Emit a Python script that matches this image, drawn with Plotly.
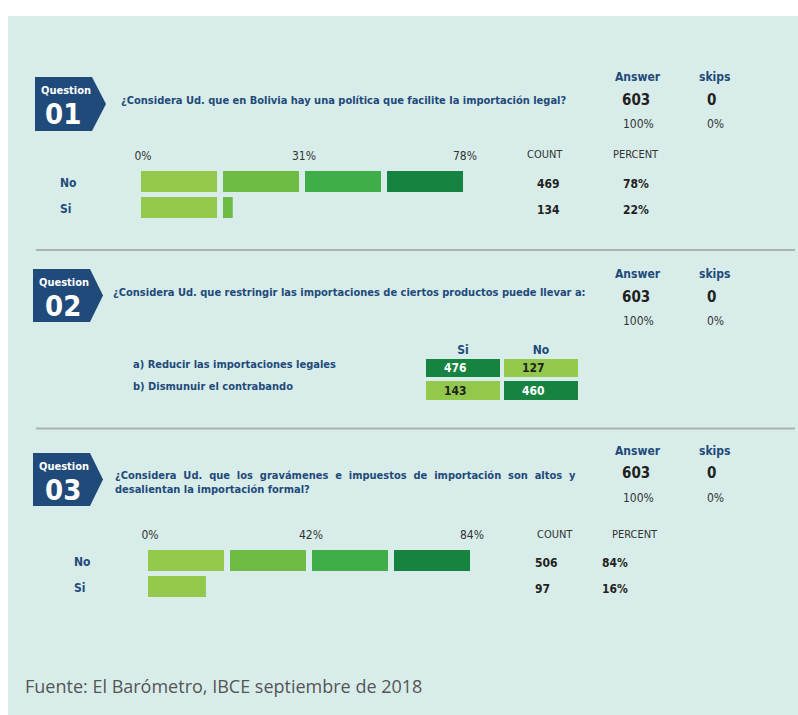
import plotly.graph_objects as go

# ---------------- data ----------------
q_numbers = ["01", "02", "03"]
q_texts = [
    ["¿Considera Ud. que en Bolivia hay una política que facilite la importación legal?"],
    ["¿Considera Ud. que restringir las importaciones de ciertos productos puede llevar a:"],
    ["¿Considera Ud. que los gravámenes e impuestos de importación son altos y",
     "desalientan la importación formal?"],
]
answered = [603, 603, 603]
answered_pct = ["100%", "100%", "100%"]
skipped = [0, 0, 0]
skipped_pct = ["0%", "0%", "0%"]

q1_options = ["No", "Si"]
q1_counts = [469, 134]
q1_percents = [78, 22]
q1_ticktext = ["0%", "31%", "78%"]

q2_items = ["a) Reducir las importaciones legales", "b) Dismunuir el contrabando"]
q2_columns = ["Si", "No"]
q2_counts = [[476, 127], [143, 460]]

q3_options = ["No", "Si"]
q3_counts = [506, 97]
q3_percents = [84, 16]
q3_ticktext = ["0%", "42%", "84%"]

source_text = "Fuente: El Barómetro, IBCE septiembre de 2018"

# ---------------- styling ----------------
W, H = 798, 715
BG = "#D8EDEA"
NAVY = "#1F4A7A"
DARK = "#231F20"
GREENS = ["#92C84B", "#6DBB42", "#3FAE4A", "#168440"]
FONT = "Liberation Sans Narrow, Arial Narrow, DejaVu Sans Condensed, sans-serif"


def px(x):
    return x / W


def py(y):
    return 1 - y / H


def justify(lines):
    # widen word gaps of every line except the last (the original text is justified)
    if len(lines) == 1:
        return lines[0]
    return "<br>".join([ln.replace(" ", " \u00a0") for ln in lines[:-1]] + [lines[-1]])


fig = go.Figure()
annotations = []
shapes = []

# panel background
shapes.append(dict(type="rect", xref="paper", yref="paper", x0=px(8), x1=px(W), y0=0, y1=py(16),
                   fillcolor=BG, line=dict(width=0), layer="below"))
# separators
for yy in (250, 428.5):
    shapes.append(dict(type="line", xref="paper", yref="paper", x0=px(36), x1=px(795), y0=py(yy), y1=py(yy),
                       line=dict(color="#AEB1B1", width=2)))

# badges + question text + answer/skips
badges = [
    dict(l=35, t=77, b=131, r=92, tip=106, qy=91, ny=114, qx=66, nx=63, tx=119, ty=100,
         ay=77, vy=100, py_=124),
    dict(l=33, t=269, b=322, r=90, tip=103, qy=282, ny=306, qx=64, nx=63, tx=111, ty=293,
         ay=274, vy=297, py_=321),
    dict(l=33, t=453, b=506, r=90, tip=103, qy=466, ny=490, qx=64, nx=63, tx=113, ty=482,
         ay=451, vy=473, py_=498),
]
for i, bd in enumerate(badges):
    m = (bd["t"] + bd["b"]) / 2
    path = (f"M {px(bd['l'])} {py(bd['t'])} L {px(bd['r'])} {py(bd['t'])} L {px(bd['tip'])} {py(m)} "
            f"L {px(bd['r'])} {py(bd['b'])} L {px(bd['l'])} {py(bd['b'])} Z")
    shapes.append(dict(type="path", xref="paper", yref="paper", path=path, fillcolor=NAVY, line=dict(width=0)))
    annotations.append(dict(x=px(bd["qx"]), y=py(bd["qy"]), xref="paper", yref="paper", text="<b>Question</b>",
                            showarrow=False, font=dict(family=FONT, size=11, color="white"),
                            xanchor="center", yanchor="middle"))
    annotations.append(dict(x=px(bd["nx"]), y=py(bd["ny"]), xref="paper", yref="paper",
                            text=f"<b>{q_numbers[i]}</b>", showarrow=False,
                            font=dict(family=FONT, size=29, color="white"), xanchor="center", yanchor="middle"))
    annotations.append(dict(x=px(bd["tx"]), y=py(bd["ty"]), xref="paper", yref="paper",
                            text=f"<b>{justify(q_texts[i])}</b>", showarrow=False, align="left",
                            font=dict(family=FONT, size=11, color=NAVY), xanchor="left", yanchor="middle"))
    for cx, txt, yy, size, col, bold in [
        (638, "Answer", bd["ay"], 12, NAVY, True),
        (714.5, "skips", bd["ay"], 12, NAVY, True),
        (636, str(answered[i]), bd["vy"], 15, DARK, True),
        (711.5, str(skipped[i]), bd["vy"], 15, DARK, True),
        (638, answered_pct[i], bd["py_"], 12, "#333333", False),
        (715, skipped_pct[i], bd["py_"], 12, "#333333", False),
    ]:
        annotations.append(dict(x=px(cx), y=py(yy), xref="paper", yref="paper",
                                text=f"<b>{txt}</b>" if bold else txt, showarrow=False,
                                font=dict(family=FONT, size=size, color=col),
                                xanchor="center", yanchor="middle"))


# ---------------- segmented bar charts (Q1, Q3) ----------------
def segmented(percents, options, xa, ya):
    seg = max(percents) / 4
    gap = seg * 6 / 76
    for opt, val in zip(options, percents):
        bases, lens, cols = [], [], []
        k, rem = 0, val
        while rem > 1e-9 and k < 4:
            ln = min(seg, rem)
            bases.append(k * (seg + gap))
            lens.append(ln)
            cols.append(GREENS[k])
            rem -= ln
            k += 1
        fig.add_trace(go.Bar(orientation="h", y=[opt] * len(lens), x=lens, base=bases,
                             marker=dict(color=cols, line=dict(width=0)), width=21 / 26,
                             xaxis=xa, yaxis=ya, hoverinfo="skip", showlegend=False))
    return 4 * seg + 3 * gap


tot1 = segmented(q1_percents, q1_options, "x", "y")
tot3 = segmented(q3_percents, q3_options, "x3", "y3")


def bar_axes(tot, ticktext, x0, x1, yc0, options):
    xa = dict(domain=[px(x0), px(x1)], range=[0, tot], side="top", tickvals=[0, tot / 2, tot],
              ticktext=ticktext, showgrid=False, zeroline=False, showline=False, ticks="",
              ticklabelstandoff=5, ticklabelshift=2,
              tickfont=dict(family=FONT, size=12, color="#333333"), fixedrange=True, automargin=False)
    ya = dict(domain=[py(yc0 + 26 * len(options) - 13), py(yc0 - 13)], type="category",
              categoryorder="array", categoryarray=options, range=[len(options) - 0.5, -0.5],
              showticklabels=False, showgrid=False, zeroline=False, showline=False, fixedrange=True,
              automargin=False)
    return xa, ya


xa1, ya1 = bar_axes(tot1, q1_ticktext, 141, 463, 181.5, q1_options)
xa3, ya3 = bar_axes(tot3, q3_ticktext, 148, 470, 560.5, q3_options)


def table_text(options, counts, percents, yref, label_x, count_x, pct_x, head_count_x, head_pct_x, head_y):
    for opt, c, p in zip(options, counts, percents):
        annotations.append(dict(x=px(label_x), y=opt, xref="paper", yref=yref, text=f"<b>{opt}</b>",
                                showarrow=False, font=dict(family=FONT, size=12, color=NAVY),
                                xanchor="left", yanchor="middle", yshift=-1))
        annotations.append(dict(x=px(count_x), y=opt, xref="paper", yref=yref, text=f"<b>{c}</b>",
                                showarrow=False, font=dict(family=FONT, size=12, color=DARK),
                                xanchor="left", yanchor="middle", yshift=-2))
        annotations.append(dict(x=px(pct_x), y=opt, xref="paper", yref=yref, text=f"<b>{p}%</b>",
                                showarrow=False, font=dict(family=FONT, size=12, color=DARK),
                                xanchor="left", yanchor="middle", yshift=-2))
    annotations.append(dict(x=px(head_count_x), y=py(head_y), xref="paper", yref="paper", text="COUNT",
                            showarrow=False, font=dict(family=FONT, size=11, color="#333333"),
                            xanchor="left", yanchor="middle"))
    annotations.append(dict(x=px(head_pct_x), y=py(head_y), xref="paper", yref="paper", text="PERCENT",
                            showarrow=False, font=dict(family=FONT, size=11, color="#333333"),
                            xanchor="left", yanchor="middle"))


table_text(q1_options, q1_counts, q1_percents, "y", 58, 535, 621, 525, 611, 154)
table_text(q3_options, q3_counts, q3_percents, "y3", 72, 533, 600, 535, 610, 534)

# ---------------- Q2 grid ----------------
total2 = answered[1]
fig.add_trace(go.Heatmap(z=q2_counts, x=q2_columns, y=q2_items, xaxis="x2", yaxis="y2",
                         zmin=0, zmax=total2, showscale=False, xgap=4, ygap=4, hoverinfo="skip",
                         colorscale=[[0, GREENS[0]], [0.5, GREENS[0]], [0.5, GREENS[3]], [1, GREENS[3]]]))
for r, item in enumerate(q2_items):
    annotations.append(dict(x=px(131), y=item, xref="paper", yref="y2", text=f"<b>{item}</b>",
                            showarrow=False, font=dict(family=FONT, size=11, color=NAVY),
                            xanchor="left", yanchor="middle", yshift=4))
    for c, col in enumerate(q2_columns):
        v = q2_counts[r][c]
        annotations.append(dict(x=col, y=item, xref="x2", yref="y2", text=f"<b>{v}</b>", showarrow=False,
                                font=dict(family=FONT, size=12, color="white" if v > total2 / 2 else DARK),
                                xanchor="center", yanchor="middle", xshift=-8))
xa2 = dict(domain=[px(424), px(580)], side="top", type="category", showgrid=False, zeroline=False,
           showline=False, ticks="", tickfont=dict(family=FONT, size=12, color=NAVY), fixedrange=True,
           tickprefix="<b>", ticksuffix="</b>", automargin=False)
ya2 = dict(domain=[py(403), py(357)], type="category", autorange="reversed", showticklabels=False,
           showgrid=False, zeroline=False, showline=False, fixedrange=True, automargin=False)

# footer
annotations.append(dict(x=px(23), y=py(686), xref="paper", yref="paper", text=source_text, showarrow=False,
                        font=dict(family="Open Sans, sans-serif", size=18, color="#555555"),
                        xanchor="left", yanchor="middle"))

fig.update_layout(
    width=W, height=H, margin=dict(l=0, r=0, t=0, b=0, pad=0), autosize=False,
    paper_bgcolor="white", plot_bgcolor="rgba(0,0,0,0)",
    barmode="overlay", showlegend=False,
    xaxis=xa1, yaxis=ya1, xaxis2=xa2, yaxis2=ya2, xaxis3=xa3, yaxis3=ya3,
    shapes=shapes, annotations=annotations,
    font=dict(family=FONT),
)
fig.update_layout(yaxis2=dict(anchor="x2"), xaxis2=dict(anchor="y2"),
                  yaxis3=dict(anchor="x3"), xaxis3=dict(anchor="y3"))

fig.write_html("out.html", config={"displayModeBar": False, "responsive": False},
               post_script="document.body.style.margin='0px'; document.body.style.overflow='hidden';")
